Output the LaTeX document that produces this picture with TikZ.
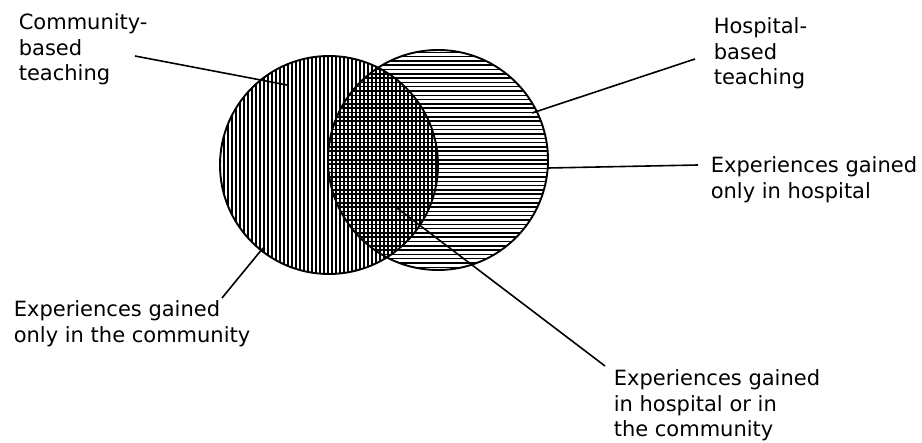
\documentclass[tikz,border=0pt]{standalone}
\usepackage{fontspec}
\setmainfont{DejaVu Sans}

\begin{document}
\begin{tikzpicture}[x=1pt, y=-1pt, line width=1.6pt,
    txt/.style={anchor=base west, inner sep=0pt, align=left,
        font=\fontsize{21}{25.5}\selectfont},
    hatch/.style={line width=1.5pt}]
    % Frame
    \useasboundingbox (0,0) rectangle (922,443);

    % Circle centres
    \coordinate (comm) at (329,165);
    \coordinate (hosp) at (438,160);

    % Community circle (vertical hatching)
    \begin{scope}
        \clip (comm) circle (109);
        \foreach \x in {220,224,...,440}
            \draw[hatch] (\x,50) -- (\x,280);
    \end{scope}
    % Hospital circle (horizontal hatching)
    \begin{scope}
        \clip (hosp) circle (110);
        \foreach \y in {48,52.3,...,275}
            \draw[hatch] (325,\y) -- (552,\y);
    \end{scope}

    % Outlines
    \draw[line width=1.9pt] (comm) circle (109);
    \draw[line width=1.9pt] (hosp) circle (110);

    % Labels (anchored at the last baseline)
    \node[txt] (cbt) at (18,81) {Community-\\based\\teaching};
    \node[txt] (hbt) at (713,85) {Hospital-\\based\\teaching};
    \node[txt] (eoh) at (710,198.5) {Experiences gained\\only in hospital};
    \node[txt] (eoc) at (13,342.5) {Experiences gained\\only in the community};
    \node[txt] (ehc) at (613,437) {Experiences gained\\in hospital or in\\the community};

    % Leader lines
    \coordinate (cbt1) at (135,56);  \coordinate (cbt2) at (287,85);
    \coordinate (hbt1) at (695,59);  \coordinate (hbt2) at (532,113);
    \coordinate (eoh1) at (698,165); \coordinate (eoh2) at (548,168);
    \coordinate (eoc1) at (222,298); \coordinate (eoc2) at (263,248);
    \coordinate (ehc1) at (605,366); \coordinate (ehc2) at (397,208);
    \draw (cbt1) -- (cbt2);
    \draw (hbt1) -- (hbt2);
    \draw (eoh1) -- (eoh2);
    \draw (eoc1) -- (eoc2);
    \draw (ehc1) -- (ehc2);
\end{tikzpicture}
\end{document}
